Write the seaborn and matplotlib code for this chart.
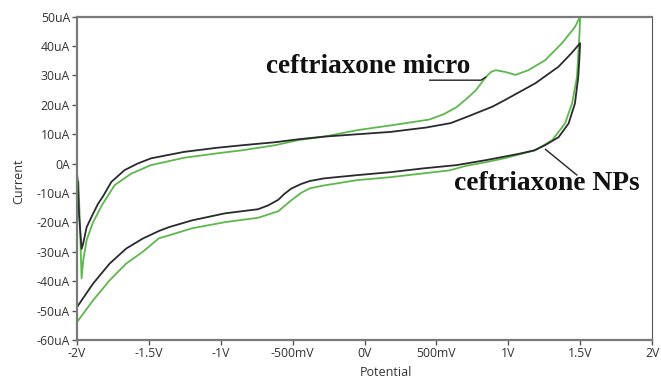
import matplotlib
matplotlib.use("Agg")
import matplotlib.pyplot as plt
import seaborn as sns
import pandas as pd

# ---- data ----
np_potential = [-2.0, -1.995, -1.985, -1.968, -1.957, -1.933, -1.888, -1.853, -1.82, -1.761,
                -1.669, -1.58, -1.486, -1.256, -1.027, -0.843, -0.62, -0.46, -0.28, -0.05, 0.18,
                0.43, 0.60, 0.727, 0.89, 0.96, 1.12, 1.19, 1.35, 1.44, 1.5,
                1.495, 1.487, 1.464, 1.42, 1.35, 1.257, 1.18, 1.07, 0.845, 0.64,
                0.41, 0.18, -0.05, -0.28, -0.38, -0.44, -0.51, -0.56, -0.60, -0.67, -0.74,
                -0.97, -1.2, -1.36, -1.43, -1.543, -1.658, -1.773, -1.888, -2.0]
np_current = [-3.4, -6.0, -18.0, -29.0, -27.2, -21.6, -17.0, -13.6, -11.2, -6.2,
              -2.2, 0.0, 1.8, 4.0, 5.4, 6.3, 7.3, 8.3, 9.2, 10.0, 10.8,
              12.3, 13.8, 16.2, 19.4, 21.2, 25.5, 27.4, 33.0, 37.6, 41.0,
              36.0, 29.5, 20.5, 13.7, 9.0, 6.3, 4.5, 3.3, 1.2, -0.5,
              -1.6, -2.9, -3.9, -5.0, -5.9, -6.9, -8.5, -10.4, -12.3, -14.2, -15.5,
              -16.9, -19.3, -21.6, -22.9, -25.5, -28.9, -34.0, -40.8, -48.8]

micro_potential = [-1.99, -1.98, -1.968, -1.957, -1.933, -1.888, -1.825, -1.738, -1.623, -1.486,
                   -1.256, -1.027, -0.843, -0.62, -0.46, -0.28, -0.05, 0.18, 0.45, 0.55,
                   0.64, 0.72, 0.775, 0.845, 0.88, 0.913, 0.98, 1.05, 1.14, 1.257, 1.374, 1.464, 1.5,
                   1.497, 1.478, 1.444, 1.395, 1.306, 1.19, 0.98, 0.845, 0.71, 0.59,
                   0.41, 0.18, -0.05, -0.28, -0.38, -0.44, -0.51, -0.60, -0.74, -0.97, -1.2,
                   -1.36, -1.43, -1.543, -1.658, -1.773, -1.888, -2.0]
micro_current = [-6.2, -20.0, -39.0, -33.0, -26.0, -19.9, -14.0, -7.3, -3.4, -0.5,
                 2.0, 3.5, 4.6, 6.3, 8.0, 9.2, 11.4, 13.0, 15.0, 16.8,
                 19.2, 22.5, 25.0, 29.5, 31.2, 31.8, 31.2, 30.2, 31.8, 35.2, 41.0, 46.5, 50.0,
                 45.5, 29.5, 20.5, 13.7, 8.0, 4.6, 1.9, 0.5, -0.7, -2.3,
                 -3.3, -4.6, -5.6, -7.4, -8.4, -9.9, -12.5, -16.2, -18.4, -19.9, -22.0,
                 -24.4, -25.4, -30.0, -34.0, -39.7, -46.5, -53.9]

x_ticks = [-2.0, -1.5, -1.0, -0.5, 0.0, 0.5, 1.0, 1.5, 2.0]
x_tick_labels = ["-2V", "-1.5V", "-1V", "-500mV", "0V", "500mV", "1V", "1.5V", "2V"]
y_ticks = [-60, -50, -40, -30, -20, -10, 0, 10, 20, 30, 40, 50]
y_tick_labels = ["-60uA", "-50uA", "-40uA", "-30uA", "-20uA", "-10uA", "0A",
                 "10uA", "20uA", "30uA", "40uA", "50uA"]

label_micro = "ceftriaxone micro"
label_nps = "ceftriaxone NPs"

# ---- plotting ----
sns.set_style("ticks")
plt.rcParams["font.family"] = ["Open Sans", "DejaVu Sans"]

fig = plt.figure(figsize=(6.61, 3.81), dpi=100)
ax = fig.add_axes([77 / 661, 1 - 340 / 381, (652 - 77) / 661, (340 - 16.7) / 381])

df_np = pd.DataFrame({"Potential": np_potential, "Current": np_current})
df_micro = pd.DataFrame({"Potential": micro_potential, "Current": micro_current})

green = "#5db84c"
black = "#2a2a2e"
sns.lineplot(data=df_micro, x="Potential", y="Current", sort=False, estimator=None,
             color=green, linewidth=1.3, ax=ax)
sns.lineplot(data=df_np, x="Potential", y="Current", sort=False, estimator=None,
             color=black, linewidth=1.3, ax=ax)

ax.set_xlim(-2.0, 2.0)
ax.set_ylim(-60, 50)
ax.set_xticks(x_ticks)
ax.set_xticklabels(x_tick_labels)
ax.set_yticks(y_ticks)
ax.set_yticklabels(y_tick_labels)

tick_color = "#333333"
ax.tick_params(axis="both", direction="out", length=3.5, width=1, color="#555555",
               labelsize=8.8, labelcolor=tick_color, pad=1.5)

for side in ["left", "bottom", "top"]:
    ax.spines[side].set_color("#7a7a7a")
    ax.spines[side].set_linewidth(1.6)
ax.spines["right"].set_color("#555555")
ax.spines["right"].set_linewidth(0.8)

ax.set_xlabel("")
ax.set_ylabel("")
fig.text(19 / 661, 1 - 181 / 381, "Current", rotation=90, ha="center", va="center",
         fontsize=9, color=tick_color)
fig.text(386 / 661, 1 - 373 / 381, "Potential", ha="center", va="center",
         fontsize=9, color=tick_color)

serif = ["Liberation Serif", "DejaVu Serif"]
ax.text(-0.685, 30.8, label_micro, fontsize=19.6, fontweight="bold", family=serif,
        ha="left", va="baseline", color="#111111")
ax.plot([0.452, 0.81, 0.845], [28.4, 28.4, 29.5], color="#222222", linewidth=1.0)

ax.text(0.625, -9.1, label_nps, fontsize=19.8, fontweight="bold", family=serif,
        ha="left", va="baseline", color="#111111")
ax.plot([1.258, 1.478], [4.9, -3.9], color="#222222", linewidth=1.0)

fig.savefig("out.png", dpi=100, facecolor="white")
